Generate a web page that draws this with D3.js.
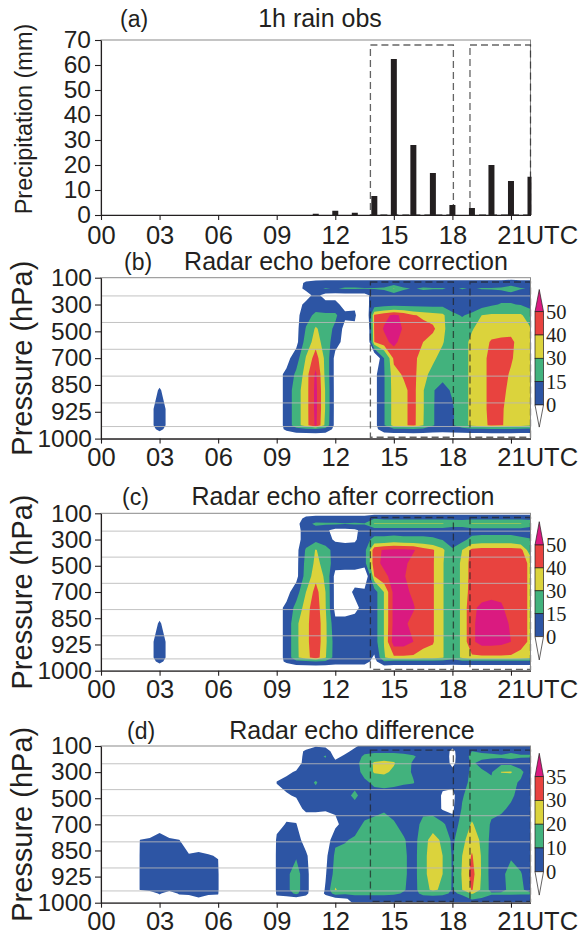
<!DOCTYPE html>
<html>
<head>
<meta charset="utf-8">
<script src="https://cdn.jsdelivr.net/npm/d3@7"></script>
<style>
	body { margin: 0; background: #fff; }
	svg text { font-family: "Liberation Sans", Arial, sans-serif; fill: #231f20; }
</style>
</head>
<body>
<script>

// hourly rain gauge (mm)
var rainHours = [11, 12, 13, 14, 15, 16, 17, 18, 19, 20, 21, 22];
var rainObs = [0.5, 1.7, 0.9, 7.6, 62.4, 28, 16.8, 4, 2.8, 20, 13.6, 15.3];

var timeTicks = [0, 3, 6, 9, 12, 15, 18, 21];
var rainTicks = [0, 10, 20, 30, 40, 50, 60, 70];
var pressureLevels = [100, 300, 500, 700, 850, 925, 1000];

// periods marked with dashed boxes (UTC hours)
var boxSpans = [[13.8, 18.05], [18.9, 22]];

// radar grid: one column every half hour from 01:30 to 22:00 UTC,
// rows given as position on the level axis (0 = 100 hPa ... 6 = 1000 hPa)
var gridStart = 1.5;
var gridStep = 0.5;
var gridRows = [0, 0.2, 0.4, 0.65, 1.0, 1.4, 1.9, 2.4, 3.0, 3.6, 4.2, 4.9, 5.5, 5.65, 5.85, 6.0];

var echoLevels = [0, 15, 30, 40, 50];
var diffLevels = [0, 10, 20, 30, 35];
var shadeColors = ['#2d55a4', '#42b27d', '#dbd33c', '#e8433f', '#da1a80'];

// negative = no echo
var noEcho = [-5, -5, -5, -5, -5, -5, -5, -5, -5, -5, -5, -5, -5, -5, -5, -5];
var noEchoFar = [-40, -40, -40, -40, -40, -40, -40, -40, -40, -40, -40, -40, -40, -40, -40, -40];
var echoAt03 = [-5, -5, -5, -5, -5, -5, -5, -5, -5, -5, 1, 8, 8, 3, -5, -5];

// dBZ before correction, one array per time column (top to bottom)
var echoBefore = [
	noEcho, noEcho, noEcho,                                                   // 1.5-2.5
	echoAt03,                                                                 // 3
	noEcho, noEcho, noEcho, noEcho, noEcho, noEcho,                           // 3.5-6
	noEcho, noEcho, noEcho, noEcho, noEcho, noEcho,                           // 6.5-9
	[-5, -5, -5, -5, -5, -5, -5, -5, -5, 3, 3, 3, 3, 2, -5, -5],              // 9.5
	[-5, -5, -5, -5, -5, -5, -5, -5, 8, 18, 25, 25, 25, 10, -5, -5],          // 10
	[-5, 2, 3, -5, 3, 10, 16, 22, 31, 36, 36, 36, 36, 12, -5, -5],            // 10.5
	[-5, 5, 12, 4, 8, 18, 32, 36, 45, 52, 53, 53, 52, 14, -5, -5],            // 11
	[-5, 6, 16, -5, 4, 18, 22, 24, 27, 27, 29, 29, 27, 10, -5, -5],           // 11.5
	[-5, 6, 14, -5, 4, 18, 12, 6, -5, -5, -5, -5, -5, -5, -5, -5],            // 12
	[-5, 6, 17, -5, -5, 3, -5, -5, -5, -5, -5, -5, -5, -5, -5, -5],           // 12.5
	[-5, 6, 17, -5, -5, 4, -5, -5, -5, -5, -5, -5, -5, -5, -5, -5],           // 13
	[-5, 6, 16, -5, -5, -30, -40, -40, -5, -5, -5, -5, -5, -5, -5, -5],       // 13.5
	[-5, 6, 16, 6, 6, 42, 42, 40, -20, -5, -5, -5, -5, -5, -5, -5],           // 14
	[-5, 6, 17, 8, 9, 47, 51, 47, 15, 14, 14, 14, 14, 8, -5, -5],             // 14.5
	[-5, 6, 31, 8, 10, 52, 55, 53, 42, 37, 36, 36, 36, 12, -5, -5],           // 15
	[-5, 6, 17, 8, 10, 48, 49, 45, 42, 41, 38, 38, 38, 12, -5, -5],           // 15.5
	[-5, 6, 14, 8, 10, 41, 44, 42, 43, 43, 43, 43, 43, 14, -5, -5],           // 16
	[-5, 6, 17, 8, 10, 38, 44, 40, 35, 33, 31, 31, 30.5, 12, -5, -5],         // 16.5
	[-5, 6, 16, 8, 10, 35, 42, 36, 32, 27, 16, 16, 16, 8, -5, -5],            // 17
	[-5, 6, 16, 8, 10, 33, 33, 31, 26, 20, 10, 9, 9, 6, -5, -5],              // 17.5
	[-5, 6, 13, 8, 8, 18, 22, 22, 22, 21, 17, 13, 13, 8, -5, -5],             // 18
	[-5, 6, 16, 8, 6, 14, 22, 25, 25, 25, 25, 25, 25, 10, -5, -5],            // 18.5
	[-5, 6, 14, 8, 6, 18, 29, 33, 33, 33, 33, 33, 33, 12, -5, -5],            // 19
	[-5, 6, 16, 8, 8, 30, 35, 36, 37, 37, 37, 37, 37, 12, -5, -5],            // 19.5
	[-5, 6, 16, 9, 13, 32, 36, 41, 43, 43, 43, 43, 42, 14, -5, -5],           // 20
	[-5, 6, 17, 10, 16, 32, 36, 42, 43, 43, 42, 41, 41, 14, -5, -5],          // 20.5
	[-5, 8, 22, 10, 16, 32, 37, 42, 41, 39, 38, 37, 36, 14, -5, -5],          // 21
	[-5, 6, 16, 8, 14, 32, 33, 36, 36, 35, 35, 34, 34, 12, -5, -5],           // 21.5
	[-5, 6, 14, 8, 10, 22, 31, 33, 33, 33, 33, 32, 32, 12, -5, -5]            // 22
];

// dBZ after correction
var echoAfter = [
	noEcho, noEcho, noEcho,
	echoAt03,
	noEcho, noEcho, noEcho, noEcho, noEcho, noEcho,
	noEcho, noEcho, noEcho, noEcho, noEcho, noEcho,
	[-5, -5, -5, -5, -5, -5, -5, -5, -5, 3, 3, 3, 3, 2, -5, -5],              // 9.5
	[-5, -5, -5, -5, -5, -5, -5, -5, 8, 20, 28, 28, 28, 10, -5, -5],          // 10
	[-5, 3, 10, 6, 6, 17, 20, 22, 30, 36, 37, 37, 36, 12, -5, -5],            // 10.5
	[-5, 6, 18, 8, 10, 31, 33, 37, 44, 46, 47, 47, 46, 14, -5, -5],           // 11
	[-5, 6, 17, 3, 5, 22, 26, 28, 30, 31, 33, 33, 31, 12, -5, -5],            // 11.5
	[-5, 6, 17, -5, -2, 8, 6, -5, -5, -5, 4, 8, 8, 6, -5, -5],                // 12
	[-5, 6, 16, -5, -3, 6, 5, -5, -5, -5, 4, 8, 9, 6, -5, -5],                // 12.5
	[-5, 6, 17, -3, -2, 6, 5, -5, 2, -3, 5, 9, 10, 6, -5, -5],                // 13
	[-5, 6, 16, 6, 8, 10, 10, -20, 5, 4, 6, 8, 8, 6, -5, -5],                 // 13.5
	[-5, 14, 31, 6, 20, 47, 47, 40, 8, 8, 8, 8, -2, -5, -5, -5],              // 14
	[-5, 12, 31, 6, 20, 51, 52, 48, 30.5, 30.5, 30.5, 30.5, 29, 14, -5, -5],  // 14.5
	[-5, 12, 31, 6, 22, 52, 53, 53, 53, 53, 53, 55, 38, 10, -5, -5],          // 15
	[-5, 12, 31, 6, 20, 52, 52, 51, 53, 52, 52, 55, 38, 10, -5, -5],          // 15.5
	[-5, 12, 31, 6, 20, 51, 47, 45, 48, 51, 47, 50, 38, 10, -5, -5],          // 16
	[-5, 12, 31, 6, 20, 45, 44, 44, 44, 44, 44, 44, 35, 10, -5, -5],          // 16.5
	[-5, 12, 31, 6, 18, 41, 41, 41, 41, 41, 41, 41, 35, 10, -5, -5],          // 17
	[-5, 12, 31, 6, 14, 33, 31, 31, 31, 31, 31, 31, 31, 10, -5, -5],          // 17.5
	[-5, 12, 24, 6, 6, 17, 20, 20, 20, 20, 20, 20, 20, 8, -5, -5],            // 18
	[-5, 12, 22, 8, 10, 30, 33, 33, 33, 33, 33, 33, 33, 10, -5, -5],          // 18.5
	[-5, 12, 31, 8, 20, 43, 44, 44, 45, 48, 48, 48, 38, 10, -5, -5],          // 19
	[-5, 12, 31, 8, 22, 44, 44, 44, 46, 52, 54, 54, 38, 10, -5, -5],          // 19.5
	[-5, 12, 31, 8, 22, 44, 44, 44, 47, 53, 54, 54, 38, 10, -5, -5],          // 20
	[-5, 12, 31, 8, 22, 44, 44, 44, 48, 51, 53, 53, 38, 10, -5, -5],          // 20.5
	[-5, 12, 31, 8, 22, 44, 44, 44, 44, 47, 49, 50, 38, 10, -5, -5],          // 21
	[-5, 12, 31, 8, 18, 44, 44, 44, 44, 44, 44, 44, 36, 10, -5, -5],          // 21.5
	[-5, 12, 22, 8, 16, 22, 38, 38, 38, 38, 38, 38, 33, 10, -5, -5]           // 22
];

// after - before (dBZ)
var echoDiff = [
	noEchoFar,                                                                // 1.5
	[-40, -40, -40, -40, -40, -40, -40, -40, -40, 1, 2, 2, 2, -30, -40, -40], // 2
	[-20, -20, -20, -20, -20, -20, -20, -20, -20, 3, 3, 3, 3, -5, -20, -20],  // 2.5
	[-5, -5, -5, -5, -5, -5, -5, -5, -5, 4, 4, 4, 4, 1, -5, -5],              // 3
	[-20, -20, -20, -20, -20, -20, -20, -20, -20, 3, 3, 3, 3, -5, -20, -20],  // 3.5
	[-40, -40, -40, -40, -40, -40, -40, -40, -40, 1, 3, 3, 3, 1, -5, -5],     // 4
	[-20, -20, -20, -20, -20, -20, -20, -20, -20, -20, 3, 3, 3, 2, -5, -5],   // 4.5
	[-5, -5, -5, -5, -5, -5, -5, -5, -5, -5, 1.5, 4, 4, 3, -1, -5],           // 5
	[-5, -5, -5, -5, -5, -5, -5, -5, -5, -5, 0.5, 3, 3, 2, -5, -5],           // 5.5
	[-40, -40, -40, -40, -40, -40, -40, -40, -40, -40, -0.5, 2, 2, 1, -5, -5],// 6
	noEchoFar,                                                                // 6.5
	noEcho, noEcho, noEcho,                                                   // 7-8
	noEchoFar,                                                                // 8.5
	[-5, -5, -5, -5, -5, 0.5, -5, -5, -5, 3, 4, 4, 4, 3, -5, -5],             // 9
	[-5, -5, -5, -5, -2, 3, -1, -5, 1, 5, 7, 8, 8, 5, -5, -5],                // 9.5
	[-5, -5, -5, -5, 1, 3, 1, -5, 0.5, 5, 9, 14, 14, 12, -5, -5],             // 10
	[-5, 2, 3, 4, 5, 6, 5, 3, -10, -5, 2, 4, 4, 3, -5, -5],                   // 10.5
	[-1, 6, 6, 6, 5, 11, 6, 3, -10, -10, -10, -10, -10, -10, -5, -5],         // 11
	[-2, 5, 11, 6, 5, 5, 4, 2, -10, -8, -3, -1, 1, 2, -5, -5],                // 11.5
	[-5, -5, -3, 3, 5, 6, 5, 2, -3, 8, 12, 14, 21, 14, -3, -5],               // 12
	[-5, -3, 2, 5, 5, 6, 7, 5, 5, 9.5, 12, 15, 15, 12, -1, -5],               // 12.5
	[-2, 3, 5, 6, 6, 7, 12, 6, 7, 11, 13, 15, 15, 13, 3, 2],                  // 13
	[4, 7, 12, 15, 13, 8, 6, 7, 11, 13, 14, 15, 15, 13, 4, 3],                // 13.5
	[4, 8, 14, 21, 21, 12, 6, 8, 12, 14, 15, 15, 15, 13, 4, 3],               // 14
	[5, 8, 14, 23, 22, 13, 6, 9, 13, 15, 16, 16, 15, 13, 4, 3],               // 14.5
	[5, 8, 14, 21, 18, 12, 6, 7, 11, 14, 15, 15, 14, 12, 4, 3],               // 15
	[4, 7, 13, 14, 13, 11, 5, 5, 7, 11, 12, 12, 11, 9, 4, 3],                 // 15.5
	[4, 7, 11, 9, 9, 10.5, 4, 4, 5, 6, 6, 6, 6, 6, 4, 3],                     // 16
	[3, 5, 7, 6, 5, 5, 5, 7, 13, 16, 17, 17, 16, 13, 4, 3],                   // 16.5
	[3, 5, 6, 5, 5, 4, 5, 6, 15, 24, 25, 25, 22, 14, 4, 3],                   // 17
	[3, 5, 6, 5, 4, 2, -1, -1, 12, 18, 20, 20, 18, 13, 4, 3],                 // 17.5
	[2, -2, -3, -2, 2, 3, -3, -2, 4, 8, 9, 9, 9, 8, 4, 3],                    // 18
	[3, 5, 6, 5, 5, 6, 9, 11, 14, 17, 20, 21, 20, 12, 6, 4],                  // 18.5
	[5, 10, 12, 11, 12, 13, 15, 16, 21, 26, 31, 34, 31, 21, 11, 5],           // 19
	[4, 9, 12, 8, 11, 13, 14, 13, 15, 18, 19, 19, 18, 15, 9, 4],              // 19.5
	[4, 8, 12, 6, 9, 12, 14, 12, 9, 7, 6, 6, 7, 11, 7, 4],                    // 20
	[4, 8, 11, 7, 20.5, 13, 13, 11, 8, 6, 6, 8, 8, 11, 7, 4],                 // 20.5
	[4, 9, 12, 7, 21, 12, 11, 9, 7, 6, 9, 13, 12, 11, 7, 4],                  // 21
	[4, 8, 11, 6, 12, 9, 8, 7, 6, 6, 7, 10.5, 11, 11, 6, 4],                  // 21.5
	[4, 8, 11, 5, 5, 5, 5, 5, 5, 5, 5, 6, 8, 11, 5, 3]                        // 22
];

(function(){

	var w = 578;
	var h = 941;
	var ink = '#231f20';

	var svg = d3.select('body')
		.append('svg')
		.attr('width', w)
		.attr('height', h);

	var x = d3.scaleLinear().domain([0, 22]).range([101, 530.5]);

	function frame(y0, y1) {
		svg.append('rect')
			.attr('x', x(0))
			.attr('y', y0)
			.attr('width', x(22) - x(0))
			.attr('height', y1 - y0)
			.attr('fill', 'none')
			.attr('stroke', '#8a8a8a')
			.attr('stroke-width', 1);
	}

	function styleAxis(g, size) {
		g.attr('font-family', '"Liberation Sans", Arial, sans-serif')
			.attr('font-size', size)
			.attr('color', ink);
		g.selectAll('path, line').attr('stroke-width', 1.1);
	}

	function timeAxis(y1, pad) {
		var g = svg.append('g')
			.attr('transform', 'translate(0,' + y1 + ')')
			.call(d3.axisBottom(x)
				.tickValues(timeTicks)
				.tickSize(5)
				.tickPadding(pad)
				.tickSizeOuter(0)
				.tickFormat(d3.format('02d')));
		styleAxis(g, 25.5);
		g.selectAll('text')
			.filter(function(d){ return d === 21; })
			.text('21UTC')
			.attr('text-anchor', 'start')
			.attr('x', -14.2);
	}

	function title(tag, tagX, text, textX, baseline) {
		svg.append('text').attr('x', tagX).attr('y', baseline)
			.attr('font-size', 23).text(tag);
		svg.append('text').attr('x', textX).attr('y', baseline)
			.attr('font-size', 25).attr('text-anchor', 'middle').text(text);
	}

	function yLabel(text, cy, size) {
		svg.append('text')
			.attr('transform', 'translate(32,' + cy + ') rotate(-90)')
			.attr('text-anchor', 'middle')
			.attr('font-size', size)
			.text(text);
	}

	function boxes(yTop, yBottom) {
		svg.append('g').selectAll('rect')
			.data(boxSpans)
			.enter()
			.append('rect')
			.attr('x', function(d){ return x(d[0]); })
			.attr('y', yTop)
			.attr('width', function(d){ return x(d[1]) - x(d[0]); })
			.attr('height', yBottom - yTop)
			.attr('fill', 'none')
			.attr('stroke', '#222')
			.attr('stroke-opacity', 0.7)
			.attr('stroke-width', 1.3)
			.attr('stroke-dasharray', '7,4');
	}

	// (a) rain bars
	(function(){
		var top = 40, bottom = 215;
		var y = d3.scaleLinear().domain([0, 70]).range([bottom, top]);

		svg.append('clipPath').attr('id', 'clip-a')
			.append('rect').attr('x', x(0)).attr('y', top).attr('width', x(22) - x(0) + 1).attr('height', bottom - top);

		frame(top, bottom);
		boxes(y(68), y(0));

		svg.append('g').attr('clip-path', 'url(#clip-a)')
			.selectAll('rect')
			.data(rainObs)
			.enter()
			.append('rect')
			.attr('x', function(d, i){ return x(rainHours[i]) - 3; })
			.attr('y', function(d){ return y(d); })
			.attr('width', 6)
			.attr('height', function(d){ return y(0) - y(d); })
			.attr('fill', ink);

		var ya = svg.append('g')
			.attr('transform', 'translate(' + x(0) + ',0)')
			.call(d3.axisLeft(y).tickValues(rainTicks).tickSize(6).tickPadding(4).tickSizeOuter(0));
		styleAxis(ya, 24.5);
		timeAxis(bottom, 5.5);

		title('(a)', 120, '1h rain obs', 320, 27);
		yLabel('Precipitation (mm)', 119, 23.5);
	})();

	// (b)-(d) time-pressure contours
	function contourPanel(id, cols, levels, top, bottom, bar) {
		var y = d3.scaleLinear().domain([0, pressureLevels.length - 1]).range([top, bottom]);
		var n = cols.length, m = gridRows.length;
		var values = new Array(n * m);
		for (var j = 0; j < m; j++) {
			for (var i = 0; i < n; i++) {
				values[j * n + i] = cols[i][j];
			}
		}
		var rowAt = d3.scaleLinear().domain(d3.range(m)).range(gridRows);
		var path = d3.geoPath(d3.geoTransform({
			point: function(px, py) {
				this.stream.point(x(gridStart + (px - 0.5) * gridStep), y(rowAt(py - 0.5)));
			}
		}));
		var bands = d3.contours().size([n, m]).thresholds(levels)(values);

		svg.append('clipPath').attr('id', 'clip-' + id)
			.append('rect').attr('x', x(0)).attr('y', top).attr('width', x(22) - x(0)).attr('height', bottom - top);

		svg.append('g').attr('clip-path', 'url(#clip-' + id + ')')
			.selectAll('path')
			.data(bands)
			.enter()
			.append('path')
			.attr('d', path)
			.attr('fill', function(d, k){ return shadeColors[k]; });

		// faint level lines
		svg.append('g').selectAll('line')
			.data([0.68, 1.67, 2.67, 3.67, 4.67, 5.55])
			.enter()
			.append('line')
			.attr('x1', x(0)).attr('x2', x(22))
			.attr('y1', function(d){ return y(d); })
			.attr('y2', function(d){ return y(d); })
			.attr('stroke', '#b9b9b9')
			.attr('stroke-opacity', 0.85)
			.attr('stroke-width', 1);

		boxes(y(0.16), y(5.95));
		frame(top, bottom);

		var ya = svg.append('g')
			.attr('transform', 'translate(' + x(0) + ',0)')
			.call(d3.axisLeft(y)
				.tickValues(d3.range(pressureLevels.length))
				.tickFormat(function(i){ return pressureLevels[i]; })
				.tickSize(6).tickPadding(3).tickSizeOuter(0));
		styleAxis(ya, 24.5);
		timeAxis(bottom, 4);

		yLabel('Pressure (hPa)', (top + bottom) / 2, 29);

		// colour bar
		var cb = svg.append('g');
		var x0 = 535, x1 = 543.5, xm = (x0 + x1) / 2;
		var base = bar.base, step = bar.step, end = base + 4 * step;
		cb.append('path')
			.attr('d', 'M' + x0 + ',' + base + 'L' + xm + ',' + bar.tip + 'L' + x1 + ',' + base + 'Z')
			.attr('fill', shadeColors[4]);
		cb.selectAll('rect')
			.data([3, 2, 1, 0])
			.enter()
			.append('rect')
			.attr('x', x0)
			.attr('y', function(d, k){ return base + k * step; })
			.attr('width', x1 - x0)
			.attr('height', step)
			.attr('fill', function(d){ return shadeColors[d]; });
		cb.append('path')
			.attr('d', 'M' + x0 + ',' + end + 'L' + xm + ',' + (end + base - bar.tip) + 'L' + x1 + ',' + end + 'Z')
			.attr('fill', '#fff');
		cb.selectAll('path, rect')
			.attr('stroke', ink)
			.attr('stroke-width', 0.7);
		cb.selectAll('text')
			.data(levels.slice().reverse())
			.enter()
			.append('text')
			.attr('x', 546)
			.attr('y', function(d, k){ return base + k * step; })
			.attr('dy', '0.34em')
			.attr('font-size', 20.5)
			.style('font-family', '"Liberation Serif", "Times New Roman", serif')
			.text(function(d){ return d; });
	}

	contourPanel('b', echoBefore, echoLevels, 277.7, 438.6, {tip: 289.5, base: 311.7, step: 23.3});
	title('(b)', 124, 'Radar echo before correction', 346, 270);

	contourPanel('c', echoAfter, echoLevels, 513.3, 670.7, {tip: 521.7, base: 545, step: 22.9});
	title('(c)', 122, 'Radar echo after correction', 343, 505);

	contourPanel('d', echoDiff, diffLevels, 746, 902.7, {tip: 753.3, base: 776.7, step: 23.75});
	title('(d)', 127, 'Radar echo difference', 352, 738.5);

})();

</script>
</body>
</html>
